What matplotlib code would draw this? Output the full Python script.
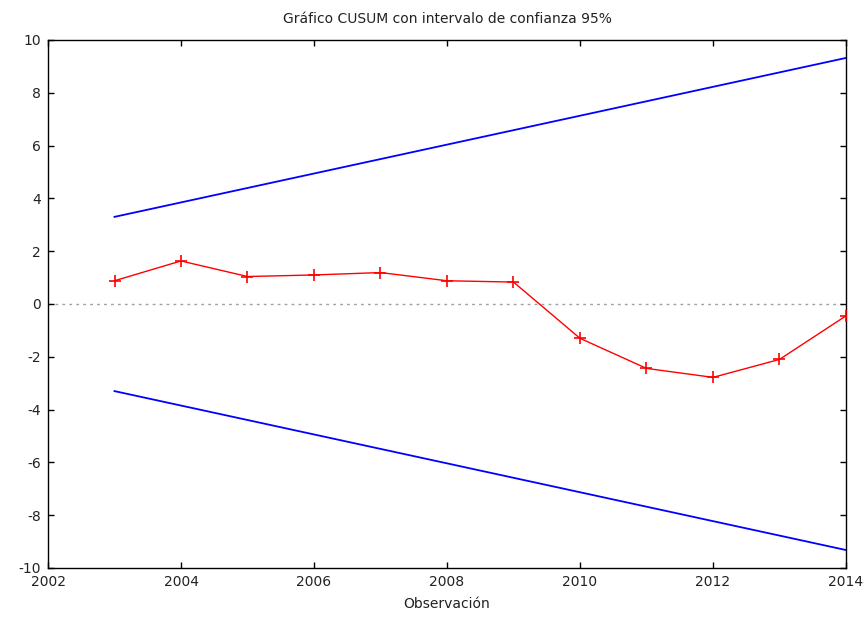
import matplotlib
matplotlib.use("Agg")
import matplotlib.pyplot as plt

years = [2003, 2004, 2005, 2006, 2007, 2008, 2009, 2010, 2011, 2012, 2013, 2014]
cusum = [0.88, 1.63, 1.04, 1.10, 1.19, 0.88, 0.83, -1.30, -2.44, -2.78, -2.10, -0.45]
bound_x = [2003, 2014]
upper = [3.30, 9.32]
lower = [-3.30, -9.32]

title = "Gráfico CUSUM con intervalo de confianza 95%"
xlabel = "Observación"

plt.rcParams['font.family'] = ['DejaVu Sans']
plt.rcParams['axes.unicode_minus'] = False
fig = plt.figure(figsize=(8.65, 6.2), dpi=100)
ax = fig.add_axes([0.0555, 0.0839, 0.9225, 0.8516])

ax.axhline(0, color='#a0a0a0', lw=1, ls=(0, (2, 3)), zorder=1)
ax.plot(bound_x, upper, color='#0000ff', lw=1.3, zorder=2)
ax.plot(bound_x, lower, color='#0000ff', lw=1.3, zorder=2)
ax.plot(years, cusum, color='#ff0000', lw=1, marker='+', ms=9, mew=1.2,
        zorder=3)

ax.set_xlim(2002, 2014)
ax.set_ylim(-10, 10)
ax.set_xticks(range(2002, 2015, 2))
ax.set_yticks(range(-10, 11, 2))
ax.tick_params(direction='in', top=True, right=True, length=4, width=1,
               labelsize=10, pad=5, labelcolor='#222222')
for s in ax.spines.values():
    s.set_linewidth(1)
ax.set_title(title, fontsize=10, pad=12, color='#222222')
ax.set_xlabel(xlabel, fontsize=10, labelpad=6, color='#222222')

fig.savefig("out.png", dpi=100)
